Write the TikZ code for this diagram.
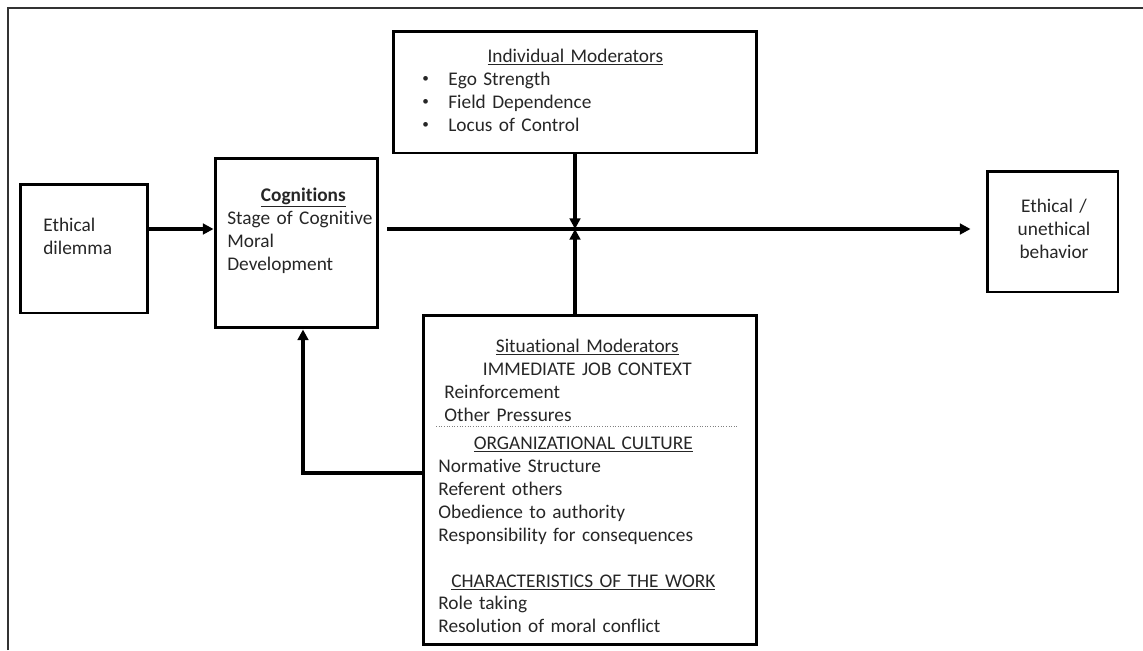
\documentclass[tikz,border=0pt]{standalone}
\usepackage{fontspec}
\setmainfont{Carlito}[Ligatures=NoCommon]
\usetikzlibrary{arrows.meta,calc}
\newcommand{\dotitem}{\makebox[0.52cm][l]{\raisebox{0.12em}{\fontsize{7.5}{7.5}\selectfont\textbullet}}}

\begin{document}
\begin{tikzpicture}[x=0.02cm,y=-0.02cm,
  box/.style={draw,line width=1.7pt,inner sep=0pt},
  txt/.style={inner sep=0pt,font=\fontsize{11}{13.09}\selectfont,text=black!85},
  arr/.style={line width=1.8pt,-{Triangle[length=6pt,width=6pt]}}]
  \useasboundingbox (0,0) rectangle (1143,650);
  % frame
  \draw[line width=0.9pt,black!80] (8,650) -- (8,8) -- (1143,8);
  % boxes
  \node[box,minimum width=2.56cm,minimum height=2.58cm] (dil) at (84,248.5) {};
  \node[box,minimum width=3.26cm,minimum height=3.4cm] (cog) at (296.5,243) {};
  \node[box,minimum width=7.28cm,minimum height=2.44cm] (ind) at (575,92) {};
  \node[box,minimum width=6.68cm,minimum height=6.6cm] (sit) at (590,480) {};
  \node[box,minimum width=2.62cm,minimum height=2.42cm] (beh) at (1052.5,231.5) {};
  % box texts
  \node[txt,text width=2cm,align=left,anchor=base west] (dilT) at (43,231) {Ethical\\dilemma};
  \node[txt,text width=3.04cm,align=left,anchor=base west] (cogT) at (227,201)
    {{\centering\underline{\textbf{Cognitions}}\par}Stage of Cognitive\\Moral\\Development};
  \node[txt,text width=6.12cm,align=left,anchor=base west] (indT) at (422,62)
    {{\centering\underline{Individual Moderators}\par}
     \dotitem Ego Strength\\
     \dotitem Field Dependence\\
     \dotitem Locus of Control};
  \node[txt,text width=2.4cm,align=center,anchor=base] (behT) at (1054,212) {Ethical /\\unethical\\behavior};
  \node[txt,text width=5.72cm,align=left,anchor=base west] (sitA) at (444,352)
    {{\centering\underline{Situational Moderators}\\IMMEDIATE JOB CONTEXT\par}Reinforcement\\Other Pressures};
  \draw[gray,densely dotted,line width=0.5pt] (436,426) -- (738,426);
  \node[txt,text width=5.8cm,align=left,anchor=base west] (sitB) at (438,449)
    {{\centering\underline{ORGANIZATIONAL CULTURE}\par}Normative Structure\\Referent others\\Obedience to authority\\Responsibility for consequences\par
     \vspace{\baselineskip}{\centering\underline{CHARACTERISTICS OF THE WORK}\par}Role taking\\Resolution of moral conflict};
  % arrows
  \coordinate (axis) at (575,229);
  \coordinate (fb) at (303,473);
  \draw[arr] (dil.east |- axis) -- (cog.west |- axis);
  \draw[arr,shorten <=0.16cm,shorten >=0.3cm] (cog.east |- axis) -- (beh.west |- axis);
  \draw[arr] (ind.south) -- (axis);
  \draw[arr] (sit.north -| axis) -- (axis);
  \draw[arr] (sit.west |- fb) -| (cog.south -| fb);
\end{tikzpicture}
\end{document}
